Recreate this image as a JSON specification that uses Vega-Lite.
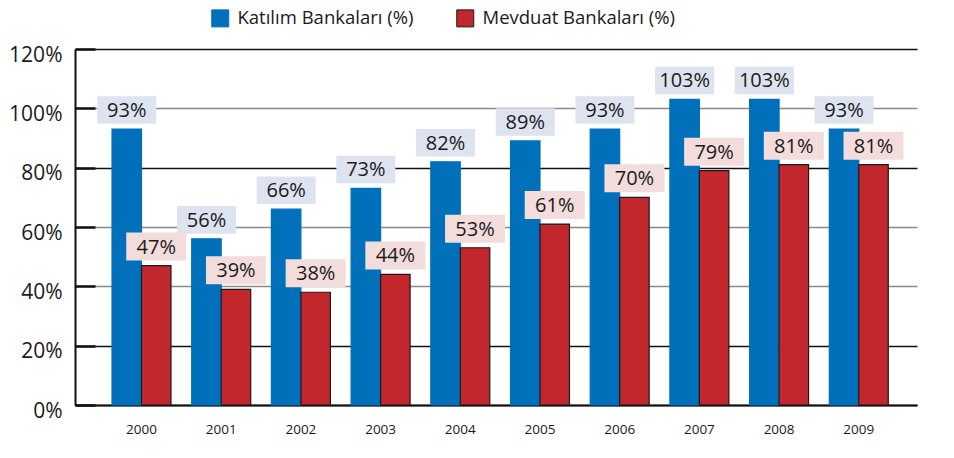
{
  "$schema": "https://vega.github.io/schema/vega-lite/v6.json",
  "width": 842,
  "height": 356,
  "autosize": {"type": "none"},
  "padding": {"left": 75, "top": 49, "right": 37, "bottom": 53},
  "background": "white",
  "config": {
    "view": {"stroke": null},
    "font": "Open Sans",
    "text": {"font": "Open Sans"}
  },
  "data": {
    "values": [
      {"yil": "2000", "seri": "Katılım Bankaları (%)", "deger": 93},
      {"yil": "2001", "seri": "Katılım Bankaları (%)", "deger": 56},
      {"yil": "2002", "seri": "Katılım Bankaları (%)", "deger": 66},
      {"yil": "2003", "seri": "Katılım Bankaları (%)", "deger": 73},
      {"yil": "2004", "seri": "Katılım Bankaları (%)", "deger": 82},
      {"yil": "2005", "seri": "Katılım Bankaları (%)", "deger": 89},
      {"yil": "2006", "seri": "Katılım Bankaları (%)", "deger": 93},
      {"yil": "2007", "seri": "Katılım Bankaları (%)", "deger": 103},
      {"yil": "2008", "seri": "Katılım Bankaları (%)", "deger": 103},
      {"yil": "2009", "seri": "Katılım Bankaları (%)", "deger": 93},
      {"yil": "2000", "seri": "Mevduat Bankaları (%)", "deger": 47},
      {"yil": "2001", "seri": "Mevduat Bankaları (%)", "deger": 39},
      {"yil": "2002", "seri": "Mevduat Bankaları (%)", "deger": 38},
      {"yil": "2003", "seri": "Mevduat Bankaları (%)", "deger": 44},
      {"yil": "2004", "seri": "Mevduat Bankaları (%)", "deger": 53},
      {"yil": "2005", "seri": "Mevduat Bankaları (%)", "deger": 61},
      {"yil": "2006", "seri": "Mevduat Bankaları (%)", "deger": 70},
      {"yil": "2007", "seri": "Mevduat Bankaları (%)", "deger": 79},
      {"yil": "2008", "seri": "Mevduat Bankaları (%)", "deger": 81},
      {"yil": "2009", "seri": "Mevduat Bankaları (%)", "deger": 81}
    ]
  },
  "encoding": {
    "x": {
      "field": "yil",
      "type": "nominal",
      "scale": {"paddingInner": 0.26, "paddingOuter": 0.4125, "align": 0.563},
      "axis": {
        "title": null,
        "labelAngle": 0,
        "labelFontSize": 13.5,
        "labelColor": "#1a1a1a",
        "labelPadding": 17,
        "ticks": false,
        "domainColor": "#111",
        "domainWidth": 2,
        "grid": false
      }
    },
    "xOffset": {
      "field": "seri",
      "type": "nominal",
      "scale": {"paddingInner": 0, "paddingOuter": 0},
      "sort": ["Katılım Bankaları (%)", "Mevduat Bankaları (%)"]
    },
    "y": {
      "field": "deger",
      "type": "quantitative",
      "scale": {"domain": [0, 120], "nice": false},
      "axis": {
        "title": null,
        "values": [0, 20, 40, 60, 80, 100, 120],
        "labelExpr": "datum.value + '%'",
        "labelFontSize": 21,
        "labelColor": "#1a1a1a",
        "labelOffset": 6,
        "tickSize": -20,
        "tickWidth": 2.5,
        "tickColor": "#111",
        "labelPadding": 33,
        "domainColor": "#111",
        "domainWidth": 2,
        "grid": true,
        "gridWidth": 1.5,
        "gridColor": {
          "condition": {"test": "datum.value == 100 || datum.value == 60 || datum.value == 40", "value": "#8a8a8a"},
          "value": "#111"
        }
      }
    }
  },
  "layer": [
    {
      "mark": {"type": "bar", "strokeWidth": 1.2},
      "encoding": {
        "color": {
          "field": "seri",
          "type": "nominal",
          "scale": {"domain": ["Katılım Bankaları (%)", "Mevduat Bankaları (%)"], "range": ["#0070bb", "#c1272d"]},
          "legend": {
            "title": null,
            "orient": "none",
            "direction": "horizontal",
            "legendX": 136,
            "legendY": -40,
            "symbolType": "square",
            "symbolSize": 289,
            "symbolStrokeWidth": 1,
            "symbolOpacity": 1,
            "labelFontSize": 18.5,
            "labelLimit": 0,
            "labelColor": "#1a1a1a",
            "labelOffset": 8,
            "columnPadding": 40
          }
        },
        "stroke": {
          "field": "seri",
          "type": "nominal",
          "scale": {"domain": ["Katılım Bankaları (%)", "Mevduat Bankaları (%)"], "range": ["#0070bb", "#1a1a1a"]},
          "legend": {
            "title": null,
            "orient": "none",
            "direction": "horizontal",
            "legendX": 136,
            "legendY": -40,
            "symbolType": "square",
            "symbolSize": 289,
            "symbolStrokeWidth": 1,
            "labelFontSize": 18.5,
            "labelLimit": 0,
            "labelColor": "#1a1a1a",
            "labelOffset": 8,
            "columnPadding": 40
          }
        }
      }
    },
    {
      "transform": [{"filter": "datum.seri == 'Katılım Bankaları (%)'"}],
      "mark": {
        "type": "point",
        "shape": "M-1,-0.4667H1V0.4667H-1Z",
        "filled": true,
        "size": 3481,
        "color": "#dde3ef",
        "opacity": 1,
        "strokeWidth": 0,
        "yOffset": -19,
        "xOffset": 0
      }
    },
    {
      "transform": [{"filter": "datum.seri == 'Mevduat Bankaları (%)'"}],
      "mark": {
        "type": "point",
        "shape": "M-1,-0.4667H1V0.4667H-1Z",
        "filled": true,
        "size": 3600,
        "color": "#f2dcdc",
        "opacity": 1,
        "strokeWidth": 0,
        "yOffset": -19,
        "xOffset": -7
      }
    },
    {
      "transform": [{"filter": "datum.seri == 'Katılım Bankaları (%)'"}],
      "mark": {"type": "text", "fontSize": 20, "color": "#1a1a1a", "baseline": "middle", "yOffset": -18, "xOffset": 0, "text": {"expr": "datum.deger + '%'"}}
    },
    {
      "transform": [{"filter": "datum.seri == 'Mevduat Bankaları (%)'"}],
      "mark": {"type": "text", "fontSize": 20, "color": "#1a1a1a", "baseline": "middle", "yOffset": -18, "xOffset": -7, "text": {"expr": "datum.deger + '%'"}}
    }
  ]
}
